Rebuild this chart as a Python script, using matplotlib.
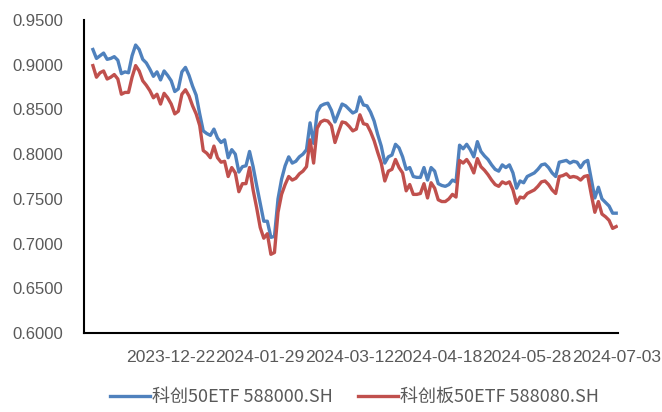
import numpy as np
import matplotlib
matplotlib.use("Agg")
import matplotlib.pyplot as plt

# Series names
NAME_A = "科创50ETF 588000.SH"
NAME_B = "科创板50ETF 588080.SH"

# Date tick labels (every 25 trading days, last one is the final point)
tick_labels = ["2023-12-22", "2024-01-29", "2024-03-12",
               "2024-04-18", "2024-05-28", "2024-07-03"]
tick_index = [22, 47, 72, 97, 122, 147]

# Unit NAV (148 trading days)
etf_588000 = [
    0.917, 0.907, 0.910, 0.913, 0.906, 0.907, 0.909, 0.905, 0.890, 0.892,
    0.891, 0.910, 0.922, 0.917, 0.906, 0.902, 0.895, 0.887, 0.892, 0.883,
    0.893, 0.888, 0.882, 0.870, 0.873, 0.892, 0.897, 0.888, 0.876, 0.866,
    0.845, 0.826, 0.823, 0.821, 0.828, 0.818, 0.813, 0.816, 0.796, 0.805,
    0.800, 0.780, 0.786, 0.787, 0.803, 0.786, 0.765, 0.745, 0.725, 0.725,
    0.707, 0.708, 0.750, 0.772, 0.787, 0.797, 0.790, 0.792, 0.797, 0.800,
    0.805, 0.835, 0.812, 0.847, 0.854, 0.856, 0.857, 0.849, 0.836, 0.846,
    0.856, 0.854, 0.850, 0.846, 0.848, 0.864, 0.855, 0.854, 0.847, 0.837,
    0.822, 0.809, 0.790, 0.797, 0.799, 0.811, 0.807, 0.797, 0.783, 0.785,
    0.775, 0.774, 0.774, 0.785, 0.771, 0.785, 0.781, 0.767, 0.765, 0.764,
    0.766, 0.771, 0.769, 0.810, 0.806, 0.811, 0.805, 0.797, 0.814, 0.803,
    0.798, 0.794, 0.788, 0.783, 0.781, 0.788, 0.785, 0.788, 0.779, 0.762,
    0.770, 0.768, 0.775, 0.777, 0.779, 0.783, 0.788, 0.789, 0.785, 0.779,
    0.775, 0.791, 0.792, 0.793, 0.790, 0.792, 0.791, 0.785, 0.791, 0.793,
    0.772, 0.751, 0.763, 0.750, 0.746, 0.742, 0.734, 0.734,
]
etf_588080 = [
    0.899, 0.886, 0.891, 0.893, 0.884, 0.886, 0.889, 0.884, 0.867, 0.869,
    0.869, 0.886, 0.899, 0.893, 0.882, 0.877, 0.871, 0.863, 0.867, 0.856,
    0.868, 0.863, 0.856, 0.845, 0.848, 0.867, 0.872, 0.865, 0.854, 0.845,
    0.832, 0.804, 0.801, 0.796, 0.809, 0.796, 0.791, 0.792, 0.775, 0.785,
    0.779, 0.758, 0.767, 0.767, 0.785, 0.760, 0.740, 0.718, 0.706, 0.711,
    0.688, 0.690, 0.735, 0.755, 0.766, 0.775, 0.771, 0.773, 0.778, 0.781,
    0.786, 0.816, 0.790, 0.829, 0.836, 0.838, 0.837, 0.832, 0.813, 0.825,
    0.836, 0.835, 0.831, 0.826, 0.828, 0.844, 0.834, 0.833, 0.825, 0.815,
    0.802, 0.790, 0.770, 0.781, 0.783, 0.794, 0.785, 0.779, 0.759, 0.766,
    0.755, 0.755, 0.756, 0.767, 0.751, 0.768, 0.762, 0.749, 0.747, 0.747,
    0.750, 0.755, 0.752, 0.793, 0.790, 0.794, 0.788, 0.779, 0.795, 0.786,
    0.782, 0.777, 0.771, 0.766, 0.764, 0.769, 0.767, 0.769, 0.760, 0.745,
    0.752, 0.751, 0.756, 0.758, 0.760, 0.764, 0.769, 0.770, 0.766, 0.760,
    0.756, 0.775, 0.776, 0.778, 0.774, 0.775, 0.774, 0.771, 0.775, 0.776,
    0.755, 0.735, 0.747, 0.733, 0.730, 0.726, 0.717, 0.719,
]

plt.rcParams['font.family'] = ['Liberation Sans', 'Noto Sans CJK SC', 'DejaVu Sans']

fig = plt.figure(figsize=(6.62, 4.12), dpi=100)
ax = fig.add_axes([0.1269, 0.1917, 0.8066, 0.7598])

x = np.arange(len(etf_588000))
ax.plot(x, etf_588000, color="#4F81BD", lw=2.4, label=NAME_A)
ax.plot(x, etf_588080, color="#C0504D", lw=2.4, label=NAME_B)

ax.set_xlim(-2.5, len(x) - 0.5)
ax.set_ylim(0.60, 0.95)
ax.set_yticks(np.arange(0.60, 0.951, 0.05))
ax.yaxis.set_major_formatter(plt.FuncFormatter(lambda v, p: f"{v:.4f}"))
ax.set_xticks(tick_index)
ax.set_xticklabels(tick_labels)

ax.tick_params(axis='both', length=0, labelcolor="#595959")
ax.tick_params(axis='y', pad=15, labelsize=12)
ax.tick_params(axis='x', pad=12, labelsize=12.6)

for side in ["top", "right"]:
    ax.spines[side].set_visible(False)
for side in ["left", "bottom"]:
    ax.spines[side].set_color("black")
    ax.spines[side].set_linewidth(1.5)

fig.legend(loc="center", bbox_to_anchor=(0.536, 0.036), ncol=2, frameon=False,
           handlelength=2.2, handletextpad=0.12, columnspacing=1.4,
           prop={'family': ['Noto Sans CJK SC', 'DejaVu Sans'], 'size': 13},
           labelcolor="#595959")

fig.savefig("out.png", dpi=100)
